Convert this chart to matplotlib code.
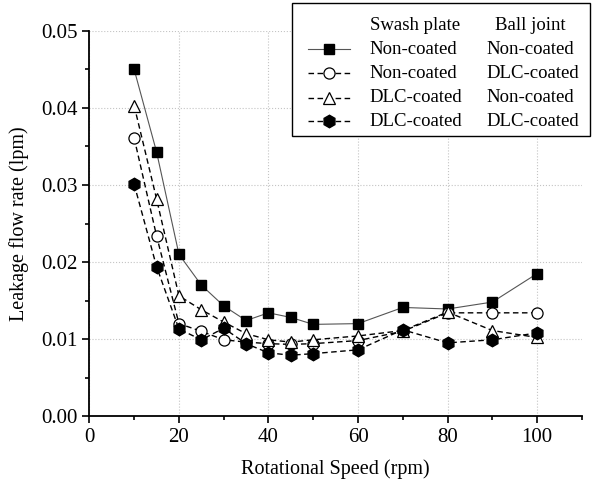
# Leakage flow rate vs rotational speed
import matplotlib
matplotlib.use('Agg')
from matplotlib import pyplot as plt
from matplotlib.lines import Line2D
from matplotlib.patches import Rectangle
from matplotlib.ticker import MultipleLocator

plt.rcParams['font.family'] = ['Liberation Serif', 'DejaVu Serif']

# 데이터
speed = [10, 15, 20, 25, 30, 35, 40, 45, 50, 60, 70, 80, 90, 100]
nc_nc = [0.0450, 0.0343, 0.0210, 0.0170, 0.0143, 0.0124, 0.0134, 0.0128, 0.0119, 0.0120, 0.0141, 0.0139, 0.0148, 0.0185]
nc_dlc = [0.0361, 0.0234, 0.0120, 0.0110, 0.0099, 0.0096, 0.0094, 0.0093, 0.0094, 0.0098, 0.0110, 0.0134, 0.0134, 0.0134]
dlc_nc = [0.0403, 0.0282, 0.0156, 0.0138, 0.0122, 0.0107, 0.0099, 0.0096, 0.0099, 0.0104, 0.0111, 0.0135, 0.0111, 0.0102]
dlc_dlc = [0.0301, 0.0194, 0.0113, 0.0099, 0.0114, 0.0094, 0.0082, 0.0079, 0.0081, 0.0086, 0.0112, 0.0095, 0.0099, 0.0108]

swash = ['Non-coated', 'Non-coated', 'DLC-coated', 'DLC-coated']
ball = ['Non-coated', 'DLC-coated', 'Non-coated', 'DLC-coated']

styles = [
    dict(color='#555555', ls='-', lw=0.8, marker='s', mfc='black', mec='black', ms=7.5),
    dict(color='black', ls=(0, (4, 2.5)), lw=1.0, marker='o', mfc='white', mec='black', ms=8, mew=0.9),
    dict(color='black', ls=(0, (4, 2.5)), lw=1.0, marker='^', mfc='white', mec='black', ms=9, mew=0.9),
    dict(color='black', ls=(0, (4, 2.5)), lw=1.0, marker='h', mfc='black', mec='black', ms=9),
]

fig = plt.figure(figsize=[5.92, 4.88], dpi=100)
ax = fig.add_axes([0.151, 0.1475, 0.832, 0.789])

for ys, st in zip([nc_nc, nc_dlc, dlc_nc, dlc_dlc], styles):
    ax.plot(speed, ys, **st)

ax.set_xlim(0, 110)
ax.set_ylim(0, 0.05)
ax.xaxis.set_major_locator(MultipleLocator(20))
ax.xaxis.set_minor_locator(MultipleLocator(10))
ax.yaxis.set_major_locator(MultipleLocator(0.01))
ax.yaxis.set_minor_locator(MultipleLocator(0.005))
ax.yaxis.set_major_formatter(plt.FuncFormatter(lambda v, p: '%.2f' % v))
ax.tick_params(which='major', direction='out', length=5, width=1.2, labelsize=15)
ax.tick_params(which='minor', direction='out', length=3, width=1.2)
for s in ['top', 'right']:
    ax.spines[s].set_visible(False)
for s in ['left', 'bottom']:
    ax.spines[s].set_linewidth(1.3)
ax.grid(True, which='major', color='#c4c4c4', ls=':', lw=0.8)
ax.set_axisbelow(True)

ax.set_xlabel('Rotational Speed (rpm)', fontsize=14.5, labelpad=9)
ax.set_ylabel('Leakage flow rate (lpm)', fontsize=14.5, labelpad=9)

# 범례 (직접 그림)
W, H = 592.0, 488.0
fig.add_artist(Rectangle((292 / W, 1 - 136 / H), 298 / W, 133 / H, transform=fig.transFigure,
                         fill=True, facecolor='white', edgecolor='black', lw=1.0, zorder=5))
fig.text(415 / W, 1 - 25 / H, 'Swash plate', ha='center', va='center', fontsize=13.5, zorder=6)
fig.text(530 / W, 1 - 25 / H, 'Ball joint', ha='center', va='center', fontsize=13.5, zorder=6)
rows = [49, 73, 98, 121]
for r, st, a, b in zip(rows, styles, swash, ball):
    yy = 1 - r / H
    fig.add_artist(Line2D([308 / W, 350 / W], [yy, yy], transform=fig.transFigure,
                          color=st['color'], ls=st['ls'], lw=st['lw'], zorder=6))
    fig.add_artist(Line2D([329 / W], [yy], transform=fig.transFigure, ls='none',
                          marker=st['marker'], mfc=st['mfc'], mec=st['mec'], ms=st['ms'],
                          mew=st.get('mew', 1.0), zorder=7))
    fig.text(369 / W, yy, a, ha='left', va='center', fontsize=13.5, zorder=6)
    fig.text(486 / W, yy, b, ha='left', va='center', fontsize=13.5, zorder=6)

plt.savefig('out.png', dpi=100)
